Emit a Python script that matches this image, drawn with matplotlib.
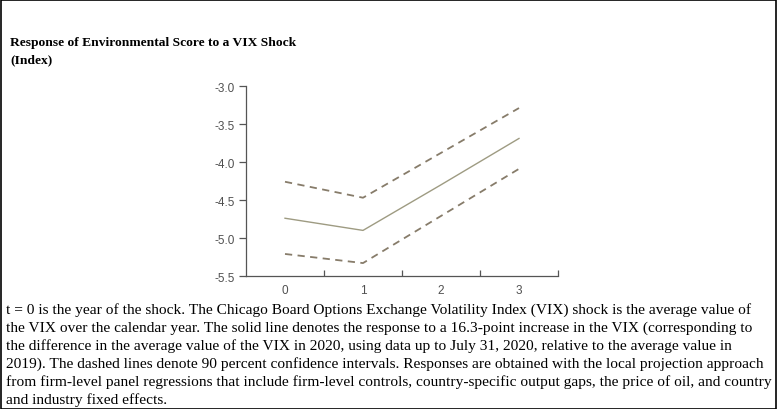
import matplotlib
matplotlib.use("Agg")
import matplotlib.pyplot as plt
from matplotlib.patches import Rectangle

horizons = [0, 1, 2, 3]
response = [-4.74, -4.90, -4.30, -3.69]
upper_ci = [-4.26, -4.47, -3.88, -3.29]
lower_ci = [-5.21, -5.33, -4.71, -4.09]
y_ticks = [-3.0, -3.5, -4.0, -4.5, -5.0, -5.5]

title_lines = ["Response of Environmental Score to a VIX Shock", "(Index)"]
caption_lines = [
    "t = 0 is the year of the shock. The Chicago Board Options Exchange Volatility Index (VIX) shock is the average value of",
    "the VIX over the calendar year. The solid line denotes the response to a 16.3-point increase in the VIX (corresponding to",
    "the difference in the average value of the VIX in 2020, using data up to July 31, 2020, relative to the average value in",
    "2019). The dashed lines denote 90 percent confidence intervals. Responses are obtained with the local projection approach",
    "from firm-level panel regressions that include firm-level controls, country-specific output gaps, the price of oil, and country",
    "and industry fixed effects.",
]

W, H = 777, 410
fig = plt.figure(figsize=(W / 100, H / 100), dpi=100)

ax = fig.add_axes([246 / W, 1 - 277 / H, 312 / W, 190 / H])
ax.plot(horizons, response, color="#9e9b82", lw=1.0)
ax.plot(horizons, upper_ci, color="#877c6a", lw=1.3, dashes=(4, 3))
ax.plot(horizons, lower_ci, color="#877c6a", lw=1.3, dashes=(4, 3))

ax.set_xlim(-0.5, 3.5)
ax.set_ylim(-5.5, -3.0)
ax.set_yticks(y_ticks)
ax.set_yticklabels([f"{v:.1f}" for v in y_ticks])
ax.set_xticks(horizons)
ax.set_xticklabels([str(h) for h in horizons])
ax.set_xticks([h + 0.5 for h in horizons], minor=True)
ax.tick_params(axis="x", which="major", length=0, pad=6, labelsize=8.5, labelcolor="#505050",
               labelfontfamily="Liberation Sans")
ax.tick_params(axis="x", which="minor", direction="in", length=4, color="#555555", width=0.9)
ax.tick_params(axis="y", which="major", direction="out", length=5, color="#555555", width=0.9,
               pad=3, labelsize=8.5, labelcolor="#505050", labelfontfamily="Liberation Sans")
for s in ["top", "right"]:
    ax.spines[s].set_visible(False)
for s in ["left", "bottom"]:
    ax.spines[s].set_color("#555555")
    ax.spines[s].set_linewidth(0.9)

renderer = fig.canvas.get_renderer()


def measure(s, size, **kw):
    t = fig.text(0, 0, s, fontsize=size, **kw)
    w = t.get_window_extent(renderer=renderer).width
    t.remove()
    return w


tfs = 10.5 * 286 / measure(title_lines[0], 10.5, family="Liberation Serif", weight="bold")
fig.text(10 / W, 1 - 43 / H, title_lines[0], family="Liberation Serif", weight="bold",
         fontsize=tfs, va="center", ha="left")
fig.text(10 / W, 1 - 60 / H, title_lines[1], family="Liberation Serif", weight="bold",
         fontsize=tfs, va="center", ha="left")

cfs = 11.6 * 763 / measure(caption_lines[4], 11.6, family="Liberation Serif")
for i, line in enumerate(caption_lines):
    fig.text(6 / W, 1 - (310 + 18 * i) / H, line, family="Liberation Serif", fontsize=cfs,
             va="center", ha="left")

fig.patches.append(Rectangle((0.5 / W, 0.5 / H), 1 - 1.5 / W, 1 - 1.5 / H, transform=fig.transFigure,
                             fill=False, edgecolor="black", lw=1.2))

fig.savefig("out.png", dpi=100)
